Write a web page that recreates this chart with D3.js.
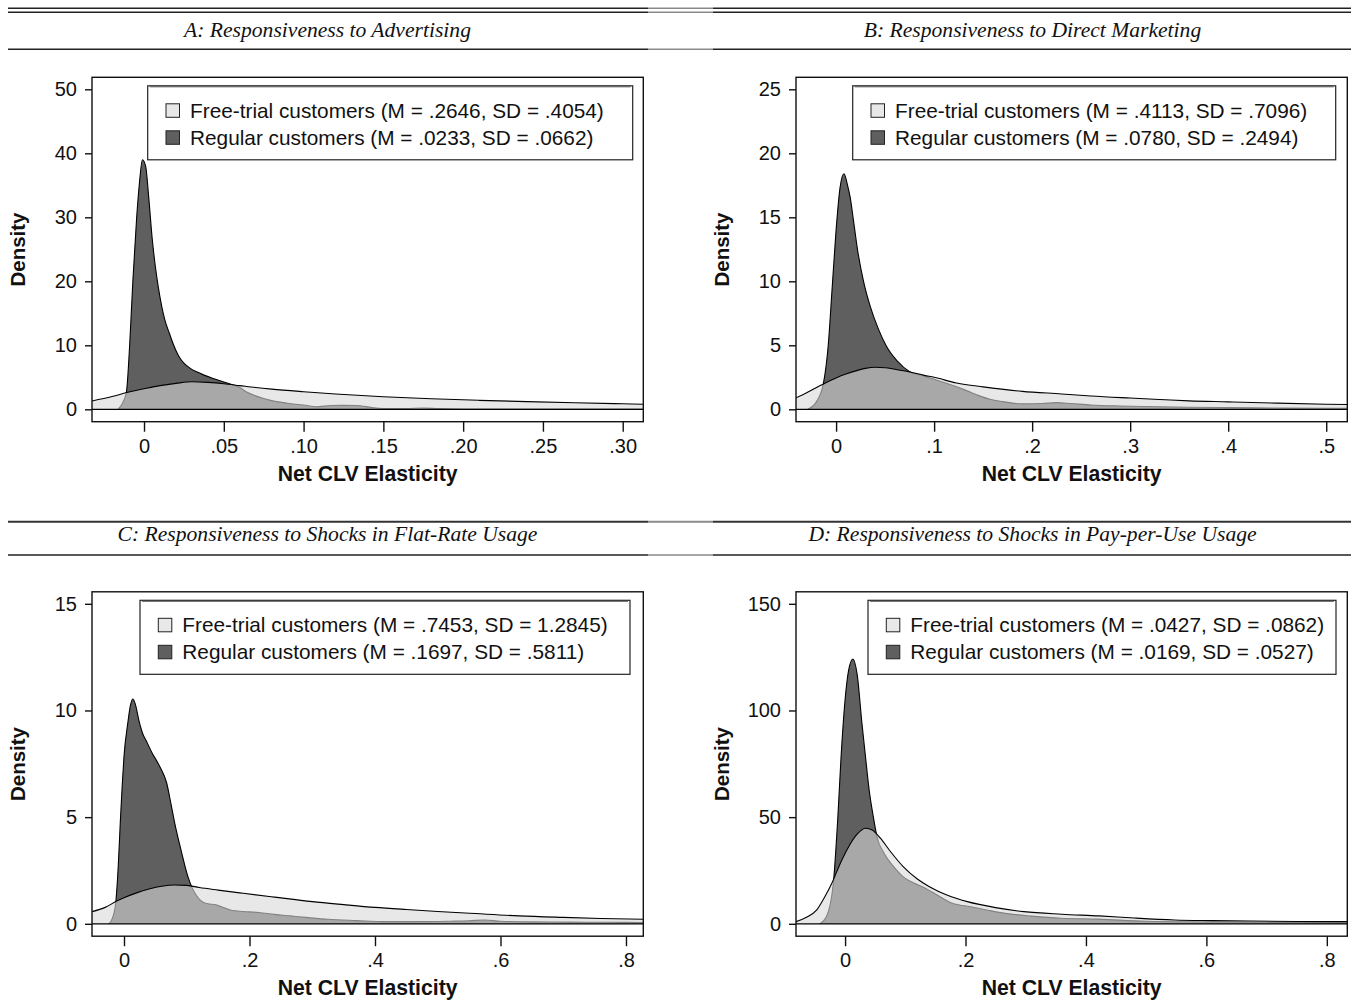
<!DOCTYPE html>
<html>
<head>
<meta charset="utf-8">
<script src="https://cdn.jsdelivr.net/npm/d3@7"></script>
<style>
body { margin: 0; background: #fff; }
svg text { font-family: "Liberation Sans", Arial, Helvetica, sans-serif; fill: #111; }
.title { font-family: "Liberation Serif", "Times New Roman", serif; font-style: italic; font-size: 21.6px; }
.tick text { font-size: 20px; }
.axisTitle { font-weight: bold; font-size: 21.2px; }
.legText { font-size: 20.8px; }
</style>
</head>
<body>
<svg id="idChart" width="1351" height="1003"></svg>
<script>

// panel texts
var asPanelTitles = [
    "A: Responsiveness to Advertising",
    "B: Responsiveness to Direct Marketing",
    "C: Responsiveness to Shocks in Flat-Rate Usage",
    "D: Responsiveness to Shocks in Pay-per-Use Usage"
];
var asFreeLegend = [
    "Free-trial customers (M = .2646, SD = .4054)",
    "Free-trial customers (M = .4113, SD = .7096)",
    "Free-trial customers (M = .7453, SD = 1.2845)",
    "Free-trial customers (M = .0427, SD = .0862)"
];
var asRegLegend = [
    "Regular customers (M = .0233, SD = .0662)",
    "Regular customers (M = .0780, SD = .2494)",
    "Regular customers (M = .1697, SD = .5811)",
    "Regular customers (M = .0169, SD = .0527)"
];

// axes
var aafXDomain = [[-0.0326, 0.3129], [-0.0409, 0.5215], [-0.051, 0.8276], [-0.0815, 0.834]];
var aafXTicks = [
    [0, 0.05, 0.10, 0.15, 0.20, 0.25, 0.30],
    [0, 0.1, 0.2, 0.3, 0.4, 0.5],
    [0, 0.2, 0.4, 0.6, 0.8],
    [0, 0.2, 0.4, 0.6, 0.8]
];
var aasXTickLabels = [
    ["0", ".05", ".10", ".15", ".20", ".25", ".30"],
    ["0", ".1", ".2", ".3", ".4", ".5"],
    ["0", ".2", ".4", ".6", ".8"],
    ["0", ".2", ".4", ".6", ".8"]
];
var aaiYTicks = [
    [0, 10, 20, 30, 40, 50],
    [0, 5, 10, 15, 20, 25],
    [0, 5, 10, 15],
    [0, 50, 100, 150]
];

// densities [elasticity, density]
var freeA = [[-0.0326,1.3],[-0.02,2.0],[-0.01,2.65],[0,3.2],[0.01,3.7],[0.02,4.05],[0.03,4.3],[0.04,4.2],
    [0.05,4.0],[0.06,3.7],[0.07,3.4],[0.08,3.15],[0.10,2.75],[0.12,2.4],[0.15,1.97],[0.18,1.65],[0.21,1.4],
    [0.24,1.2],[0.27,1.02],[0.30,0.86],[0.3129,0.8]];
var regA = [[-0.0163,0],[-0.013,1.2],[-0.011,2.75],[-0.009,10],[-0.007,20],[-0.0046,30],[-0.003,35],[-0.001,39],
    [0.001,38],[0.003,33],[0.005,27],[0.007,22.5],[0.009,19],[0.011,16.2],[0.013,14],[0.016,11.8],[0.018,10.4],
    [0.020,9.2],[0.022,8.2],[0.025,7.2],[0.029,6.4],[0.033,5.85],[0.038,5.3],[0.0434,4.8],[0.052,4.1],[0.056,3.8],
    [0.06,3.4],[0.064,2.75],[0.07,2.1],[0.075,1.7],[0.083,1.2],[0.09,0.95],[0.1,0.67],[0.108,0.4],[0.117,0.6],
    [0.125,0.62],[0.133,0.6],[0.144,0.25],[0.155,0.1],[0.165,0.12],[0.175,0.2],[0.185,0.1],[0.2,0.05],
    [0.25,0.03],[0.3129,0.02]];

var freeB = [[-0.0409,0.9],[-0.03,1.3],[-0.02,1.7],[-0.01,2.1],[0,2.45],[0.01,2.75],[0.02,3.0],[0.03,3.2],
    [0.04,3.28],[0.05,3.25],[0.06,3.13],[0.074,2.94],[0.09,2.65],[0.10,2.5],[0.123,2.05],[0.15,1.75],[0.19,1.4],
    [0.23,1.2],[0.26,1.04],[0.30,0.88],[0.33,0.77],[0.36,0.66],[0.40,0.58],[0.45,0.48],[0.50,0.4],[0.5215,0.37]];
var regB = [[-0.029,0],[-0.02,0.6],[-0.013,2.0],[-0.008,5],[-0.004,9.5],[0,14],[0.004,17.3],[0.008,18.4],
    [0.012,17.4],[0.0143,16.6],[0.018,14.6],[0.022,12.4],[0.028,10],[0.035,8],[0.043,6.3],[0.0515,4.9],[0.062,3.8],
    [0.075,2.94],[0.09,2.6],[0.1,2.35],[0.11,2.1],[0.123,1.77],[0.135,1.4],[0.144,1.12],[0.157,0.78],[0.17,0.6],
    [0.19,0.42],[0.21,0.45],[0.225,0.52],[0.24,0.45],[0.26,0.34],[0.29,0.26],[0.33,0.2],[0.36,0.16],[0.4,0.13],
    [0.45,0.1],[0.5,0.08],[0.5215,0.08]];

var freeC = [[-0.051,0.57],[-0.03,0.77],[-0.013,1.04],[0,1.22],[0.02,1.45],[0.04,1.63],[0.06,1.76],[0.08,1.82],
    [0.10,1.8],[0.12,1.7],[0.15,1.58],[0.19,1.43],[0.24,1.25],[0.30,1.04],[0.35,0.9],[0.40,0.77],[0.45,0.67],
    [0.50,0.58],[0.56,0.48],[0.63,0.37],[0.70,0.3],[0.76,0.25],[0.8276,0.21]];
var regC = [[-0.024,0],[-0.018,0.3],[-0.013,1.04],[-0.009,2.8],[-0.006,4.7],[-0.003,6.4],[0,7.85],[0.006,9.4],
    [0.010,10.2],[0.014,10.54],[0.018,10.3],[0.024,9.5],[0.030,8.9],[0.035,8.6],[0.045,8.0],[0.057,7.37],
    [0.068,6.6],[0.075,5.6],[0.081,4.7],[0.088,3.8],[0.096,2.84],[0.102,2.2],[0.108,1.73],[0.115,1.35],
    [0.122,1.1],[0.13,0.96],[0.148,0.88],[0.16,0.75],[0.173,0.62],[0.19,0.58],[0.215,0.53],[0.24,0.44],
    [0.265,0.37],[0.29,0.3],[0.325,0.21],[0.37,0.15],[0.417,0.1],[0.47,0.1],[0.52,0.12],[0.55,0.14],
    [0.575,0.18],[0.60,0.12],[0.65,0.09],[0.71,0.08],[0.77,0.07],[0.8276,0.06]];

var freeD = [[-0.0815,1.0],[-0.065,3],[-0.047,6.5],[-0.035,12],[-0.022,19],[-0.01,27],[0.003,34.6],[0.02,42],
    [0.034,44.8],[0.045,44],[0.059,40],[0.075,34],[0.0965,26.8],[0.12,21],[0.14,17.4],[0.17,13.4],[0.203,10.4],
    [0.25,7.6],[0.297,5.7],[0.36,4.5],[0.422,3.7],[0.48,2.7],[0.547,1.8],[0.61,1.5],[0.672,1.3],[0.75,1.1],
    [0.834,1.0]];
var regD = [[-0.042,0],[-0.03,4],[-0.019,20.5],[-0.012,50],[-0.0067,78],[0,105],[0.006,119],[0.013,124.1],
    [0.02,117],[0.028,94],[0.034,78],[0.04,62.7],[0.047,50],[0.053,40.8],[0.065,33],[0.08,27],[0.0965,22],
    [0.115,19],[0.134,16.6],[0.153,13.5],[0.178,9.6],[0.209,8.0],[0.24,6.2],[0.266,4.9],[0.31,3.6],[0.359,2.6],
    [0.42,2.2],[0.5,1.2],[0.6,0.9],[0.7,0.7],[0.834,0.5]];

var aaFree = [freeA, freeB, freeC, freeD];
var aaReg = [regA, regB, regC, regD];

// layout
var aiFrameLeft = [92, 796, 92, 796];
var aiFrameTop = [77.3, 77.3, 591.8, 591.8];
var iFrameW = 551.3;
var iFrameH = 344.4;
var aiLegLeft = [147.7, 852.7, 140, 868];
var aiLegWidth = [485, 483, 490, 468];

var svg = d3.select("#idChart");

function drawRule(iY, fWidth, sColor)
{
    // three pieces, the middle one is lighter (scan joint)
    var aSeg = [[8, 648, sColor], [648, 713, "#8a8a8a"], [713, 1351, sColor]];
    aSeg.forEach(function(s) {
        svg.append("line")
            .attr("x1", s[0]).attr("x2", s[1])
            .attr("y1", iY).attr("y2", iY)
            .attr("stroke", s[2])
            .attr("stroke-width", fWidth);
    });
}

function drawTitles()
{
    drawRule(8.3, 1.4, "#222");
    drawRule(12.3, 1.4, "#222");
    drawRule(49.3, 1.4, "#222");
    drawRule(521.7, 2, "#333");
    drawRule(555, 1.5, "#222");

    var aiTitleX = [327.5, 1032.5, 327.5, 1032.5];
    var aiTitleY = [37, 37, 541, 541];
    for (var i = 0; i < 4; i++)
    {
        svg.append("text")
            .attr("class", "title")
            .attr("x", aiTitleX[i])
            .attr("y", aiTitleY[i])
            .attr("text-anchor", "middle")
            .text(asPanelTitles[i]);
    }
}

function drawPanel(iIdx)
{
    var iLeft = aiFrameLeft[iIdx];
    var iTop = aiFrameTop[iIdx];
    var iBottom = iTop + iFrameH;
    var aiYT = aaiYTicks[iIdx];

    var x = d3.scaleLinear()
                .domain(aafXDomain[iIdx])
                .range([iLeft, iLeft + iFrameW]);
    var y = d3.scaleLinear()
                .domain([0, aiYT[aiYT.length - 1]])
                .range([iBottom - 12.4, iTop + 12]);

    var g = svg.append("g").attr("class", "panel" + iIdx);

    g.append("clipPath").attr("id", "clip" + iIdx)
        .append("rect")
        .attr("x", iLeft).attr("y", iTop)
        .attr("width", iFrameW).attr("height", iFrameH);

    var plot = g.append("g").attr("clip-path", "url(#clip" + iIdx + ")");

    var area = d3.area()
        .x(function(d) { return x(d[0]); })
        .y0(y(0))
        .y1(function(d) { return y(d[1]); })
        .curve(d3.curveMonotoneX);
    var line = d3.line()
        .x(function(d) { return x(d[0]); })
        .y(function(d) { return y(d[1]); })
        .curve(d3.curveMonotoneX);

    // regular customers underneath
    plot.append("path").attr("d", area(aaReg[iIdx]))
        .attr("fill", "#5f5f5f");
    plot.append("path").attr("d", line(aaReg[iIdx]))
        .attr("fill", "none").attr("stroke", "#000").attr("stroke-width", 1.1);

    // free-trial on top, see-through
    plot.append("path").attr("d", area(aaFree[iIdx]))
        .attr("fill", "rgb(216,216,216)").attr("fill-opacity", 0.6);
    plot.append("path").attr("d", line(aaFree[iIdx]))
        .attr("fill", "none").attr("stroke", "#000").attr("stroke-width", 1.1);

    plot.append("line")
        .attr("x1", iLeft).attr("x2", iLeft + iFrameW)
        .attr("y1", y(0)).attr("y2", y(0))
        .attr("stroke", "#000").attr("stroke-width", 1.3);

    g.append("rect")
        .attr("x", iLeft).attr("y", iTop)
        .attr("width", iFrameW).attr("height", iFrameH)
        .attr("fill", "none").attr("stroke", "#111").attr("stroke-width", 1.4);

    var yAxis = d3.axisLeft(y).tickValues(aiYT).tickFormat(d3.format("d"))
        .tickSize(7).tickSizeOuter(0).tickPadding(8);
    var xAxis = d3.axisBottom(x).tickValues(aafXTicks[iIdx])
        .tickFormat(function(d, i) { return aasXTickLabels[iIdx][i]; })
        .tickSize(10).tickSizeOuter(0).tickPadding(7);

    var gy = g.append("g").attr("transform", "translate(" + iLeft + ",0)").call(yAxis);
    var gx = g.append("g").attr("transform", "translate(0," + iBottom + ")").call(xAxis);
    [gx, gy].forEach(function(a) {
        a.select(".domain").remove();
        a.selectAll(".tick line").attr("stroke", "#111").attr("stroke-width", 1.4);
        a.selectAll(".tick text").attr("fill", "#111").attr("font-size", null).attr("font-family", null);
    });

    g.append("text")
        .attr("class", "axisTitle")
        .attr("x", iLeft + iFrameW / 2)
        .attr("y", iBottom + 59)
        .attr("text-anchor", "middle")
        .text("Net CLV Elasticity");

    g.append("text")
        .attr("class", "axisTitle")
        .style("font-size", "20.5px")
        .attr("transform", "translate(" + (iLeft - 67) + "," + (iTop + iFrameH / 2) + ") rotate(-90)")
        .attr("text-anchor", "middle")
        .text("Density");

    drawLegend(g, iIdx);
}

function drawLegend(g, iIdx)
{
    var iLx = aiLegLeft[iIdx];
    var iLy = aiFrameTop[iIdx] + 8.5;

    g.append("rect")
        .attr("x", iLx).attr("y", iLy)
        .attr("width", aiLegWidth[iIdx]).attr("height", 74)
        .attr("fill", "#fff").attr("stroke", "#222").attr("stroke-width", 1.2);
    g.append("line")
        .attr("x1", iLx + 2).attr("x2", iLx + aiLegWidth[iIdx] - 2)
        .attr("y1", iLy + 1).attr("y2", iLy + 1)
        .attr("stroke", "#555").attr("stroke-width", 1);

    var asText = [asFreeLegend[iIdx], asRegLegend[iIdx]];
    var asFill = ["#e8e8e8", "#5f5f5f"];
    for (var i = 0; i < 2; i++)
    {
        var iRowY = iLy + 18 + i * 27;
        g.append("rect")
            .attr("x", iLx + 18.3).attr("y", iRowY)
            .attr("width", 13.5).attr("height", 13.5)
            .attr("fill", asFill[i]).attr("stroke", "#222").attr("stroke-width", 1);
        g.append("text")
            .attr("class", "legText")
            .attr("x", iLx + 42.3)
            .attr("y", iRowY + 14)
            .text(asText[i]);
    }
}

drawTitles();
for (var i = 0; i < 4; i++)
{
    drawPanel(i);
}

</script>
</body>
</html>
